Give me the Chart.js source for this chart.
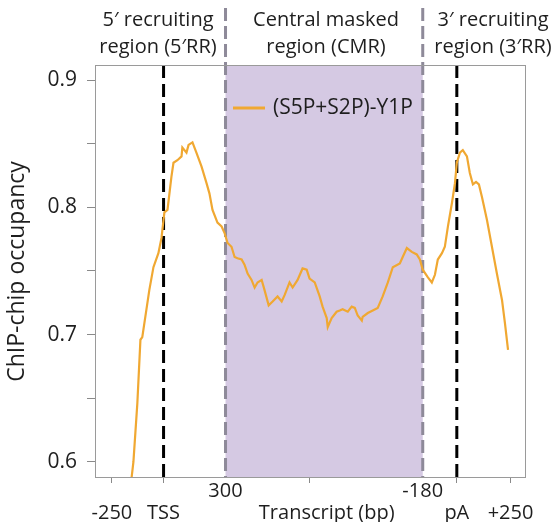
<!DOCTYPE html>
<html lang="en">
<head>
  <meta charset="UTF-8" />
  <title>ChIP-chip occupancy</title>
  <script src="https://cdn.jsdelivr.net/npm/chart.js"></script>
  <style>
    * { margin: 0; padding: 0; box-sizing: border-box; }
    body { background: #fff; width: 555px; height: 522px; overflow: hidden; }
    .wrap { width: 555px; height: 522px; position: relative; }
  </style>
</head>
<body>
  <div class="wrap"><canvas id="chart"></canvas></div>

  <script>
    // meta-gene position (bp, TSS = 0, transcript body compressed)
    const position = [-156, -146, -127, -112, -103, -69, -49, -25, -10, 4, 19, 38, 48, 67, 87, 91, 111, 121, 140, 159,
      184, 208, 222, 237, 261, 281, 295, 310, 329, 344, 358, 378, 392, 407, 426, 441, 455, 475, 489, 509,
      528, 552, 572, 586, 610, 625, 649, 673, 693, 707, 732, 756, 770, 790, 795, 814, 838, 853, 867, 892,
      911, 926, 940, 960, 964, 989, 1013, 1037, 1061, 1086, 1110, 1144, 1158, 1178, 1202, 1226, 1241, 1255, 1280, 1299,
      1314, 1328, 1348, 1362, 1377, 1396, 1411, 1420, 1435, 1449, 1469, 1483, 1498, 1513, 1527, 1542, 1566, 1590, 1614, 1639,
      1653, 1668];
    const occupancy = [0.586, 0.600, 0.646, 0.696, 0.698, 0.735, 0.753, 0.764, 0.776, 0.796, 0.798, 0.824, 0.835, 0.837, 0.840, 0.847, 0.843, 0.849, 0.851, 0.843,
      0.832, 0.819, 0.811, 0.798, 0.788, 0.785, 0.780, 0.772, 0.769, 0.761, 0.760, 0.759, 0.755, 0.748, 0.743, 0.737, 0.741, 0.743, 0.735, 0.723,
      0.726, 0.730, 0.726, 0.731, 0.741, 0.737, 0.743, 0.752, 0.751, 0.744, 0.741, 0.730, 0.722, 0.713, 0.706, 0.713, 0.718, 0.719, 0.720, 0.718,
      0.722, 0.721, 0.715, 0.711, 0.714, 0.717, 0.719, 0.721, 0.730, 0.741, 0.753, 0.756, 0.761, 0.768, 0.765, 0.763, 0.759, 0.751, 0.745, 0.741,
      0.747, 0.759, 0.764, 0.769, 0.785, 0.803, 0.819, 0.835, 0.843, 0.845, 0.840, 0.827, 0.818, 0.820, 0.818, 0.808, 0.790, 0.769, 0.748, 0.727,
      0.709, 0.688];

    const xTickValues = [-250, 0, 300, 707, 790, 1255, 1420, 1680];
    const xTickLabels = [['', '-250'], ['', 'TSS'], ['300', ''], '', ['', 'Transcript (bp)'], ['-180', ''], ['', 'pA'], ['', '+250']];
    const xNoTickMark = [300, 790, 1255];
    const yTickValues = [0.6, 0.65, 0.7, 0.75, 0.8, 0.85, 0.9];
    const yLabelled = [0.6, 0.7, 0.8, 0.9];

    const tssPos = 0, pAPos = 1420;
    const cmrStart = 300, cmrEnd = 1255;
    const regionLabels = [
      { x: 158, lines: ['5\u2032 recruiting', 'region (5\u2032RR)'] },
      { x: 326, lines: ['Central masked', 'region (CMR)'] },
      { x: 493, lines: ['3\u2032 recruiting', 'region (3\u2032RR)'] }
    ];

    const FONT = "'Open Sans', sans-serif";
    const TEXT = '#1e1e1e';

    const decor = {
      id: 'decor',
      beforeDatasetsDraw(chart) {
        const { ctx, chartArea: a, scales: { x } } = chart;
        ctx.save();
        // central masked region
        const x0 = x.getPixelForValue(cmrStart), x1 = x.getPixelForValue(cmrEnd);
        ctx.fillStyle = '#d5c9e3';
        ctx.fillRect(x0, a.top, x1 - x0, a.bottom - a.top);
        // region borders
        ctx.lineWidth = 3;
        ctx.setLineDash([13, 5]);
        ctx.strokeStyle = '#8e8a99';
        [x0, x1].forEach(px => {
          ctx.beginPath(); ctx.moveTo(px, 8); ctx.lineTo(px, a.bottom); ctx.stroke();
        });
        // TSS / pA
        ctx.strokeStyle = '#000';
        ctx.setLineDash([13, 6]);
        [tssPos, pAPos].forEach(v => {
          const px = x.getPixelForValue(v);
          ctx.beginPath(); ctx.moveTo(px, a.top); ctx.lineTo(px, a.bottom); ctx.stroke();
        });
        ctx.restore();
      },
      afterDraw(chart) {
        const { ctx, chartArea: a } = chart;
        ctx.save();
        // frame
        ctx.strokeStyle = '#9a9a9a';
        ctx.lineWidth = 1;
        ctx.strokeRect(a.left + 0.5, a.top + 0.5, a.right - a.left - 1, a.bottom - a.top - 1);
        // region titles
        ctx.fillStyle = TEXT;
        ctx.font = '20px ' + FONT;
        ctx.textAlign = 'center';
        ctx.textBaseline = 'middle';
        regionLabels.forEach(r => {
          ctx.fillText(r.lines[0], r.x, 20);
          ctx.fillText(r.lines[1], r.x, 47);
        });
        // legend
        ctx.strokeStyle = '#f0a832';
        ctx.lineWidth = 3;
        ctx.beginPath(); ctx.moveTo(233, 108); ctx.lineTo(265, 108); ctx.stroke();
        ctx.textAlign = 'left';
        ctx.font = '21px ' + FONT;
        ctx.fillText(chart.data.datasets[0].label, 273, 108);
        ctx.restore();
      }
    };

    new Chart(document.getElementById('chart'), {
      type: 'scatter',
      data: {
        datasets: [{
          label: '(S5P+S2P)-Y1P',
          data: position.map((p, i) => ({ x: p, y: occupancy[i] })),
          showLine: true,
          borderColor: '#f0a832',
          borderWidth: 2.2,
          pointRadius: 0,
          tension: 0
        }]
      },
      options: {
        responsive: true,
        maintainAspectRatio: false,
        animation: false,
        layout: { padding: { top: 65, right: 29, left: 0, bottom: 0 } },
        plugins: { legend: { display: false }, tooltip: { enabled: false } },
        scales: {
          x: {
            type: 'linear',
            min: -332,
            max: 1755,
            afterFit: s => { s.height = 44; },
            afterBuildTicks: s => { s.ticks = xTickValues.map(v => ({ value: v })); },
            border: { display: false },
            grid: {
              drawOnChartArea: false,
              tickLength: 5,
              tickColor: c => xNoTickMark.includes(c.tick && c.tick.value) ? 'rgba(0,0,0,0)' : '#8a8a8a'
            },
            ticks: {
              autoSkip: false,
              maxRotation: 0,
              padding: -3,
              color: TEXT,
              font: { family: FONT, size: 20, lineHeight: 1.1 },
              callback: v => xTickLabels[xTickValues.indexOf(v)]
            }
          },
          y: {
            min: 0.5874,
            max: 0.9118,
            afterFit: s => { s.width = 95; },
            afterBuildTicks: s => { s.ticks = yTickValues.map(v => ({ value: v })); },
            border: { display: false },
            grid: { drawOnChartArea: false, tickLength: 8, tickColor: '#8a8a8a' },
            ticks: {
              padding: 10,
              color: TEXT,
              font: { family: FONT, size: 21 },
              callback: v => yLabelled.some(t => Math.abs(t - v) < 1e-6) ? v.toFixed(1) : ''
            },
            title: {
              display: true,
              text: 'ChIP-chip occupancy',
              color: TEXT,
              font: { family: FONT, size: 23 },
              padding: { top: 4, bottom: 0 }
            }
          }
        }
      },
      plugins: [decor]
    });
  </script>
</body>
</html>
